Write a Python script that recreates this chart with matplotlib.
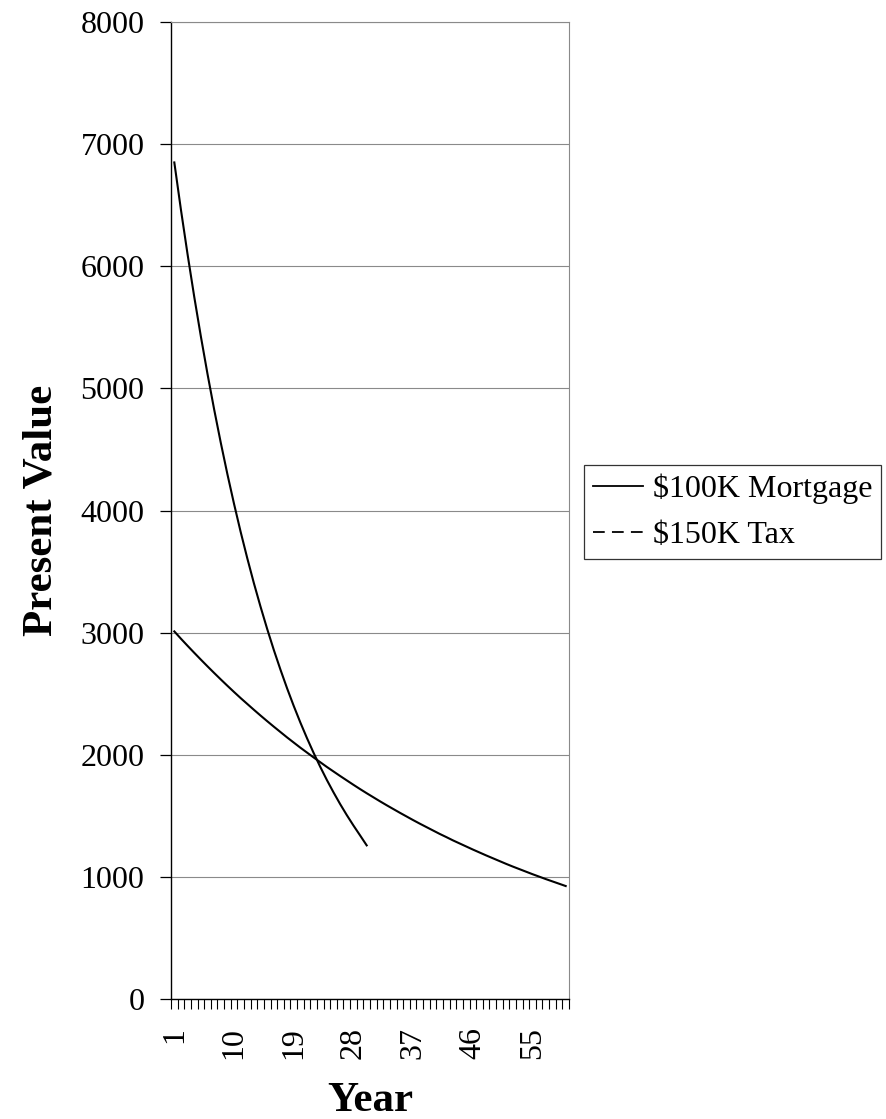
import matplotlib
matplotlib.use("Agg")
import matplotlib.pyplot as plt
from matplotlib.lines import Line2D
from matplotlib.ticker import FixedLocator, NullFormatter

plt.rcParams['font.family'] = ['Liberation Serif', 'DejaVu Serif']

years = list(range(1, 61))
mortgage = [6850, 6462, 6097, 5751, 5426, 5119, 4829, 4556, 4298, 4055,
            3825, 3609, 3404, 3212, 3030, 2858, 2697, 2544, 2400, 2264,
            2136, 2015, 1901, 1793, 1692, 1596, 1506, 1421, 1340, 1258]
tax = [3010, 2950, 2892, 2835, 2779, 2724, 2670, 2617, 2565, 2514,
       2464, 2416, 2368, 2321, 2275, 2230, 2186, 2142, 2100, 2058,
       2018, 1978, 1939, 1900, 1863, 1826, 1790, 1754, 1719, 1685,
       1652, 1619, 1587, 1556, 1525, 1495, 1465, 1436, 1408, 1380,
       1352, 1326, 1299, 1274, 1249, 1224, 1200, 1176, 1153, 1130,
       1107, 1085, 1064, 1043, 1022, 1002, 982, 963, 944, 925]
series_labels = ['\\$100K Mortgage', '\\$150K Tax']
y_ticks = [0, 1000, 2000, 3000, 4000, 5000, 6000, 7000, 8000]
x_tick_labels = [1, 10, 19, 28, 37, 46, 55]

W, H = 886, 1119
fig = plt.figure(figsize=(W / 100, H / 100), dpi=100)
ax = fig.add_axes([171 / W, 1 - 999 / H, (569 - 171) / W, (999 - 22) / H])

ax.plot(years[:len(mortgage)], mortgage, color='black', lw=1.5, solid_joinstyle='round')
ax.plot(years[:len(tax)], tax, color='black', lw=1.5, solid_joinstyle='round')

ax.set_xlim(0.5, len(years) + 0.5)
ax.set_ylim(0, 8000)
ax.set_yticks(y_ticks)
ax.set_yticklabels([str(v) for v in y_ticks], fontsize=23)
ax.yaxis.grid(True, color='#8a8a8a', lw=0.8)
ax.set_axisbelow(True)

ax.set_xticks(x_tick_labels)
ax.set_xticklabels([str(v) for v in x_tick_labels], rotation=90, fontsize=23)
ax.xaxis.set_minor_locator(FixedLocator([i + 0.5 for i in range(0, len(years) + 1)]))
ax.xaxis.set_minor_formatter(NullFormatter())
ax.tick_params(axis='x', which='major', length=0, pad=20)
ax.tick_params(axis='x', which='minor', length=7.2, width=0.8, color='black', direction='out')
ax.tick_params(axis='y', which='major', length=8, width=0.9, color='black', pad=11, direction='out')

for s in ['left', 'bottom']:
    ax.spines[s].set_color('black')
    ax.spines[s].set_linewidth(1.0)
for s in ['right', 'top']:
    ax.spines[s].set_color('#8a8a8a')
    ax.spines[s].set_linewidth(0.8)

fig.text(52 / W, 1 - 510 / H, 'Present Value', rotation=90, rotation_mode='anchor',
         ha='center', va='baseline', fontsize=31, fontweight='bold')
fig.text(370 / W, 1 - 1111 / H, 'Year', ha='center', va='baseline',
         fontsize=31, fontweight='bold')

handles = [Line2D([], [], color='black', lw=1.3, ls='-'),
           Line2D([], [], color='black', lw=1.3, ls=(0, (6.5, 4)))]
leg = fig.legend(handles, series_labels, loc='upper left',
                 bbox_to_anchor=(584 / W, 1 - 465 / H), bbox_transform=fig.transFigure,
                 borderaxespad=0, fontsize=23, frameon=True, fancybox=False,
                 handlelength=1.56, handletextpad=0.31, borderpad=0.28,
                 labelspacing=0.5)
leg.get_frame().set_edgecolor('black')
leg.get_frame().set_linewidth(0.9)

fig.savefig('out.png', dpi=100)
